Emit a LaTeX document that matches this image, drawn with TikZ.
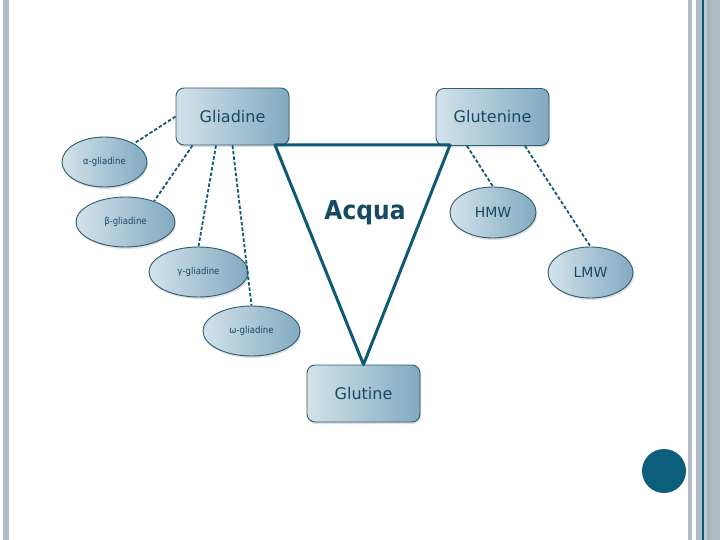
\documentclass[tikz,border=0pt]{standalone}
\usepackage{fontspec}
\setmainfont{DejaVu Sans}
\newfontfamily\condf{DejaVu Sans Condensed}
\usetikzlibrary{shapes.geometric,shadows}
\definecolor{ink}{HTML}{164A62}
\definecolor{edge}{HTML}{2E5C72}
\definecolor{fillL}{HTML}{D3E2EA}
\definecolor{fillR}{HTML}{82AAC1}
\definecolor{teal}{HTML}{0E5A72}
\definecolor{barg}{HTML}{B0BCC3}
\definecolor{barl}{HTML}{BEC9CE}
\definecolor{bard}{HTML}{A7B3BA}
\definecolor{dot}{HTML}{0B5E7C}
\tikzset{
  boxnode/.style={draw=edge, line width=0.9pt, rounded corners=8pt, left color=fillL, right color=fillR,
    minimum width=113pt, minimum height=57pt, inner sep=0pt, text=ink, font=\fontsize{16}{18}\selectfont,
    drop shadow={opacity=0.25, shadow xshift=1pt, shadow yshift=-2pt}},
  ellnode/.style={ellipse, draw=edge, line width=0.9pt, left color=fillL, right color=fillR,
    inner sep=0pt, text=ink, minimum height=50pt,
    drop shadow={opacity=0.25, shadow xshift=1pt, shadow yshift=-2pt}},
  smalltxt/.style={font=\condf\fontsize{9.5}{11}\selectfont},
  midtxt/.style={font=\fontsize{14}{16}\selectfont},
  dashlink/.style={draw=teal, line width=1.8pt, dash pattern=on 3.5pt off 2pt},
  solidlink/.style={draw=teal, line width=3pt, line join=round}
}
\begin{document}
\begin{tikzpicture}[x=1pt,y=-1pt]
\useasboundingbox (0,0) rectangle (720,540);
\fill[white] (0,0) rectangle (720,540);
% side bars
\fill[barg] (3,0) rectangle (9,540);
\fill[barg] (688,0) rectangle (692,540);
\fill[barg] (696,0) rectangle (702,540);
\fill[teal] (702,0) rectangle (703.6,540);
\fill[barl] (703.6,0) rectangle (707,540);
\fill[bard] (707,0) rectangle (710,540);
\fill[barg] (710,0) rectangle (720,540);
% circle
\fill[dot] (664,471) circle (22);

% main boxes
\node[boxnode] (gli) at (232.5,116.5) {Gliadine};
\node[boxnode] (glu) at (492.5,117) {Glutenine};
\node[boxnode] (glt) at (363.5,393.5) {Glutine};

% ellipses
\node[ellnode, smalltxt, minimum width=85pt] (a) at (104.5,162) {α-gliadine};
\node[ellnode, smalltxt, minimum width=99pt] (b) at (125.5,222) {β-gliadine};
\node[ellnode, smalltxt, minimum width=99pt] (c) at (198.5,272) {γ-gliadine};
\node[ellnode, smalltxt, minimum width=97pt] (d) at (251.5,331) {ω-gliadine};
\node[ellnode, midtxt, minimum width=86pt, minimum height=51pt] (h) at (493,212.5) {HMW};
\node[ellnode, midtxt, minimum width=85pt, minimum height=51pt] (l) at (590.5,272.5) {LMW};

% Acqua label
\node[text=ink, font=\condf\bfseries\fontsize{26}{30}\selectfont] (acq) at (365,213) {Acqua};

% dashed connectors
\draw[dashlink] (gli.west) -- (a.32);
\draw[dashlink] ([xshift=-40pt]gli.south) -- (b.36);
\draw[dashlink] ([xshift=-16.5pt]gli.south) -- (c.north);
\draw[dashlink] (gli.south) -- (d.north);
\draw[dashlink] ([xshift=-25.5pt]glu.south) -- (h.north);
\draw[dashlink] ([xshift=32.5pt]glu.south) -- (l.north);

% solid triangle
\coordinate (tL) at (275,145);
\coordinate (tR) at (450,145);
\draw[solidlink] (tL) -- (tR) -- (glt.north) -- cycle;
\end{tikzpicture}
\end{document}
